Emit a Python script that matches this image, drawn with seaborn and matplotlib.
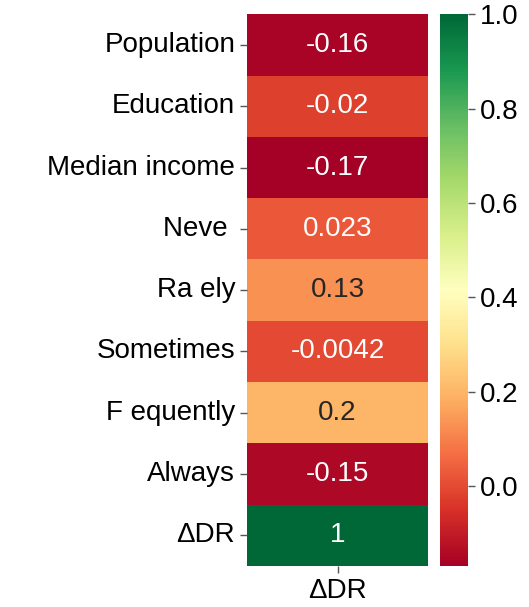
import matplotlib
matplotlib.use("Agg")
import matplotlib.pyplot as plt
import numpy as np
import pandas as pd
import seaborn as sns

# row labels as they appear in the reference (the 'r' glyphs are missing there)
ROW_LABELS = ["Population", "Education", "Median income", "Neve ", "Ra ely",
              "Sometimes", "F equently", "Always", "\u0394DR"]
COL_LABELS = ["\u0394DR"]
CORR_VALUES = [-0.16, -0.02, -0.17, 0.023, 0.13, -0.0042, 0.2, -0.15, 1.0]
CBAR_TICKS = [0.0, 0.2, 0.4, 0.6, 0.8, 1.0]

FS = 20

plt.rcParams["font.family"] = ["Liberation Sans", "DejaVu Sans"]

df = pd.DataFrame(np.array(CORR_VALUES).reshape(-1, 1),
                  index=ROW_LABELS, columns=COL_LABELS)

fig = plt.figure(figsize=(5.29, 6.07), dpi=100)
ax = fig.add_axes([0.467, 0.0675, 0.342, 0.909])
cax = fig.add_axes([0.832, 0.0675, 0.053, 0.909])

sns.heatmap(
    df,
    annot=True,
    cmap="RdYlGn",
    ax=ax,
    cbar_ax=cax,
    annot_kws={"fontsize": FS},
)

ax.tick_params(axis="both", labelsize=FS, length=5, width=1, color="#555555")
ax.set_yticklabels(ROW_LABELS, rotation=0)
ax.set_xticklabels(COL_LABELS, rotation=0)

cax.set_yticks(CBAR_TICKS)
cax.set_yticklabels([f"{t:.1f}" for t in CBAR_TICKS])
cax.tick_params(labelsize=FS, length=5, width=1, color="#555555")

plt.savefig("out.png", dpi=100)
plt.close()
